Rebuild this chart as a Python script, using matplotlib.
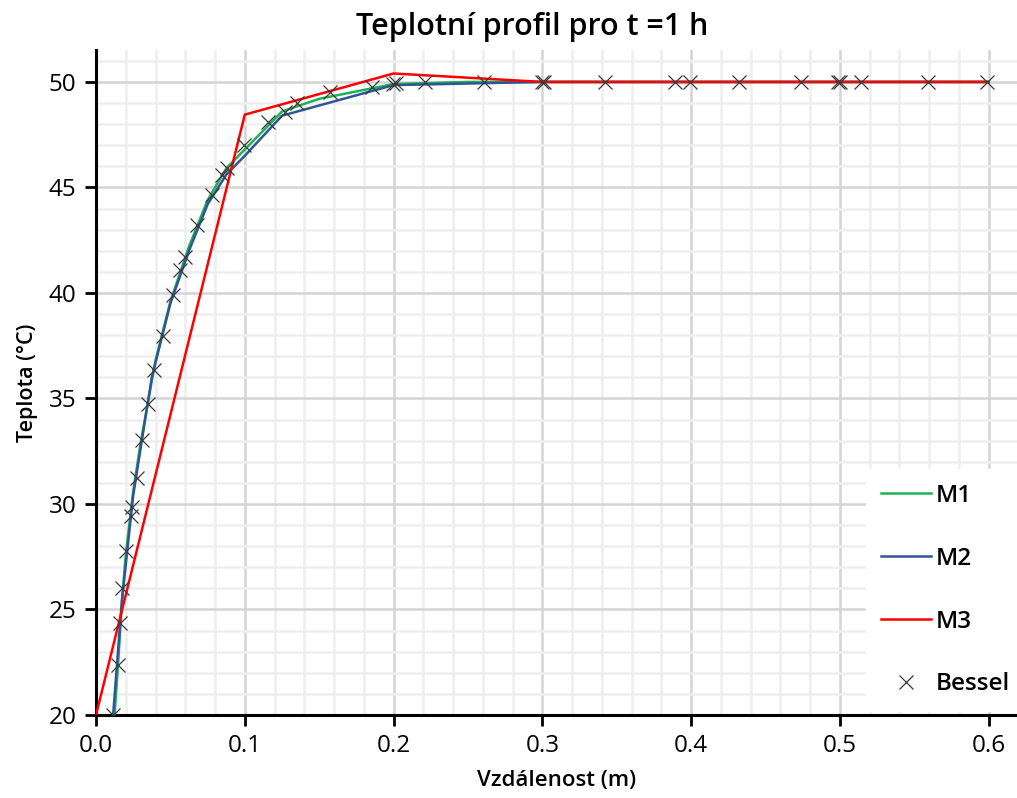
import matplotlib
matplotlib.use("Agg")
import matplotlib.pyplot as plt
from matplotlib.ticker import MultipleLocator

plt.rcParams['font.family'] = ['Open Sans', 'DejaVu Sans']

# M1 (zelená)
m1_x = [0.0125, 0.015, 0.0175, 0.02, 0.025, 0.03, 0.04, 0.05, 0.0625, 0.075, 0.0875, 0.1, 0.125, 0.15, 0.2, 0.25, 0.3, 0.6]
m1_y = [20.0, 22.6, 25.4, 27.6, 30.6, 32.9, 36.8, 39.6, 42.2, 44.4, 45.9, 46.8, 48.6, 49.2, 49.9, 50.0, 50.0, 50.0]

# M2 (modrá)
m2_x = [0.0115, 0.0175, 0.025, 0.0375, 0.05, 0.0625, 0.075, 0.0875, 0.1, 0.125, 0.2, 0.3, 0.6]
m2_y = [20.0, 25.5, 30.4, 36.0, 39.5, 42.0, 44.2, 45.6, 46.5, 48.4, 49.85, 50.0, 50.0]

# M3 (červená)
m3_x = [0.0, 0.1, 0.2, 0.3, 0.6]
m3_y = [20.0, 48.45, 50.4, 50.0, 50.0]

# Bessel - analytické řešení
bessel_x = [0.0114, 0.0146, 0.0161, 0.0175, 0.0202, 0.0235, 0.0242, 0.0276, 0.0309, 0.0349,
            0.0390, 0.0450, 0.0517, 0.0565, 0.0598, 0.0679, 0.0780, 0.0847, 0.0880, 0.0995,
            0.1156, 0.1270, 0.1351, 0.1573, 0.1855, 0.1996, 0.2016, 0.2211, 0.2608, 0.2997,
            0.3010, 0.3420, 0.3890, 0.3990, 0.4320, 0.4740, 0.4990, 0.5000, 0.5140, 0.5590, 0.5990]
bessel_y = [20.0, 22.37, 24.36, 26.02, 27.77, 29.43, 29.86, 31.23, 33.03, 34.74,
            36.35, 37.96, 39.91, 41.09, 41.71, 43.22, 44.64, 45.59, 45.92, 47.01,
            48.10, 48.58, 49.0, 49.53, 49.76, 49.9, 49.95, 50.0, 50.0, 50.0,
            50.0, 50.0, 50.0, 50.0, 50.0, 50.0, 50.0, 50.0, 50.0, 50.0, 50.0]

fig = plt.figure(figsize=(10.17, 7.98), dpi=100)
ax = fig.add_axes([0.0944, 0.104, 0.9056, 0.833])

ax.plot(m1_x, m1_y, color='#1db254', lw=1.8, label='M1', zorder=3)
ax.plot(m2_x, m2_y, color='#2f5597', lw=1.8, label='M2', zorder=3)
ax.plot(m3_x, m3_y, color='#ff0000', lw=1.8, label='M3', zorder=4)
ax.plot(bessel_x, bessel_y, linestyle='none', marker='x', markersize=10,
        markeredgewidth=0.9, color='#3a3a3a', label='Bessel', zorder=5)

ax.set_xlim(0, 0.619)
ax.set_ylim(20, 51.5)
ax.xaxis.set_major_locator(MultipleLocator(0.1))
ax.xaxis.set_minor_locator(MultipleLocator(0.02))
ax.yaxis.set_major_locator(MultipleLocator(5))
ax.yaxis.set_minor_locator(MultipleLocator(1))
ax.xaxis.set_major_formatter(plt.FuncFormatter(lambda v, p: '%.1f' % v))

ax.grid(which='major', color='#d4d4d4', lw=1.8)
ax.grid(which='minor', color='#eeeeee', lw=1.8)
ax.set_axisbelow(True)

for s in ['top', 'right']:
    ax.spines[s].set_visible(False)
for s in ['left', 'bottom']:
    ax.spines[s].set_linewidth(2.2)
    ax.spines[s].set_color('black')

ax.tick_params(which='major', length=8, width=2, labelsize=17.5, colors='black', pad=6)
ax.tick_params(which='minor', length=0)

fig.text(532 / 1017, 1 - 27 / 798, 'Teplotní profil pro t =1 h', fontsize=22,
         fontweight='semibold', ha='center', va='center')
ax.set_xlabel('Vzdálenost (m)', fontsize=16, fontweight='semibold', labelpad=8)
ax.set_ylabel('Teplota (°C)', fontsize=15.5, fontweight='semibold', labelpad=8)

leg = ax.legend(loc='lower right', bbox_to_anchor=(1.008, 0.006), borderaxespad=0,
                frameon=True, fancybox=False, framealpha=1, edgecolor='white',
                facecolor='white', fontsize=17.5, labelspacing=1.6, handlelength=2.05,
                handletextpad=0.2, borderpad=0.6)
for t in leg.get_texts():
    t.set_fontweight('semibold')
leg.set_zorder(6)

fig.savefig('out.png', dpi=100)
